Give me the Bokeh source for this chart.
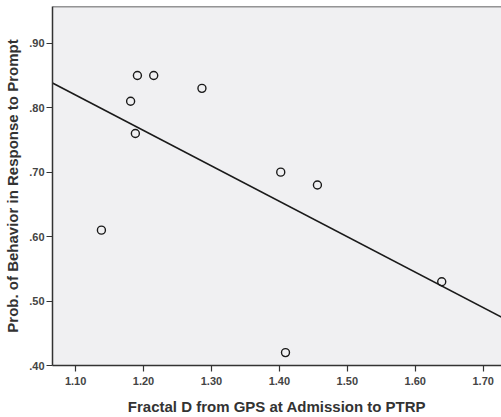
import numpy as np
from bokeh.plotting import figure
from bokeh.models import Range1d, FixedTicker, CustomJSTickFormatter, Span, ColumnDataSource
from bokeh.embed import file_html
from bokeh.resources import INLINE

fractal_d = [1.138, 1.191, 1.215, 1.181, 1.188, 1.286, 1.402, 1.456, 1.639, 1.409]
prob_behavior = [0.61, 0.85, 0.85, 0.81, 0.76, 0.83, 0.70, 0.68, 0.53, 0.42]
x_ticks = [1.10, 1.20, 1.30, 1.40, 1.50, 1.60, 1.70]
y_ticks = [0.40, 0.50, 0.60, 0.70, 0.80, 0.90]

x_lo, x_hi = 1.066, 1.727
y_lo, y_hi = 0.40, 0.957

p = figure(width=501, height=417, output_backend="svg", toolbar_location=None,
           x_range=Range1d(x_lo, x_hi), y_range=Range1d(y_lo, y_hi),
           min_border_left=52, min_border_right=0, min_border_top=6, min_border_bottom=47)
p.border_fill_color = "white"
p.background_fill_color = "#f0f0f2"
p.outline_line_color = None
p.grid.visible = False

for ax in (p.xaxis[0], p.yaxis[0]):
    ax.axis_line_color = "#333333"
    ax.axis_line_width = 1.5
    ax.major_tick_line_color = "#333333"
    ax.major_tick_line_width = 1.2
    ax.major_tick_out = 6
    ax.major_tick_in = 0
    ax.minor_tick_line_color = None
    ax.major_label_text_font = "Liberation Sans"
    ax.major_label_text_font_size = "11px"
    ax.major_label_text_font_style = "bold"
    ax.major_label_text_color = "#444444"
    ax.axis_label_text_font = "Liberation Sans"
    ax.axis_label_text_font_size = "15px"
    ax.axis_label_text_font_style = "bold"
    ax.axis_label_text_color = "#333333"

p.xaxis.ticker = FixedTicker(ticks=x_ticks)
p.yaxis.ticker = FixedTicker(ticks=y_ticks)
p.xaxis.formatter = CustomJSTickFormatter(code="return tick.toFixed(2);")
p.yaxis.formatter = CustomJSTickFormatter(code="return tick.toFixed(2).replace(/^0/, '');")
p.xaxis.axis_label = "Fractal D from GPS at Admission to PTRP"
p.yaxis.axis_label = "Prob. of Behavior in Response to Prompt"
p.xaxis.major_label_standoff = 5
p.xaxis.axis_label_standoff = 10
p.yaxis.major_label_standoff = 2
p.yaxis.axis_label_standoff = 5

top = Span(location=y_hi, dimension="width", line_color="#333333", line_width=1.5)
p.add_layout(top)

slope, intercept = np.polyfit(fractal_d, prob_behavior, 1)
lx = [x_lo, x_hi]
ly = [intercept + slope * v for v in lx]
p.line(lx, ly, line_color="#1a1a1a", line_width=1.6)

src = ColumnDataSource(dict(x=fractal_d, y=prob_behavior))
p.scatter("x", "y", source=src, marker="circle", size=8, fill_color=None,
          line_color="#1a1a1a", line_width=1.4)

open("out.html", "w").write(file_html(p, INLINE))
